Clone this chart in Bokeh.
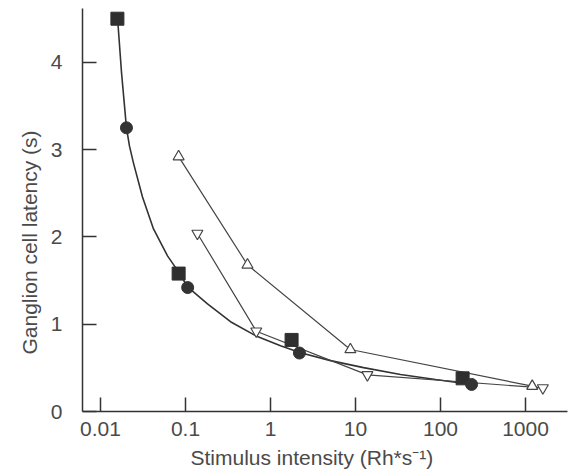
from bokeh.plotting import figure
from bokeh.models import FixedTicker, Range1d, Title
from bokeh.embed import file_html
from bokeh.resources import INLINE

# ---- data ----
square_x = [0.0158, 0.083, 1.77, 182]
square_y = [4.50, 1.58, 0.82, 0.38]

circle_x = [0.0202, 0.106, 2.19, 232]
circle_y = [3.25, 1.42, 0.67, 0.31]

up_tri_x = [0.083, 0.536, 8.7, 1200]
up_tri_y = [2.92, 1.68, 0.71, 0.29]

down_tri_x = [0.138, 0.68, 13.8, 1600]
down_tri_y = [2.04, 0.92, 0.42, 0.27]

# fitted curve, points
fit_x = [0.01585, 0.01766, 0.02022, 0.02194, 0.02444, 0.03119, 0.04202, 0.06141,
         0.08273, 0.1056, 0.1815, 0.3383, 0.6661, 1.311, 2.254, 5.081, 12.42,
         33.83, 87.35, 231.6]
fit_y = [4.514, 3.886, 3.246, 3.040, 2.846, 2.457, 2.091, 1.783,
         1.600, 1.429, 1.234, 1.029, 0.869, 0.754, 0.674, 0.583, 0.503,
         0.423, 0.366, 0.309]

x_ticks = [0.01, 0.1, 1, 10, 100, 1000]
x_tick_labels = ["0.01", "0.1", "1", "10", "100", "1000"]
y_ticks = [0, 1, 2, 3, 4]

x_label = "Stimulus intensity (Rh*s\u207b\u00b9)"
y_label = "Ganglion cell latency (s)"

FONT = "Liberation Sans"
TXT = "#4a4a4a"
INK = "#333333"

p = figure(width=577, height=473, x_axis_type="log",
           x_range=Range1d(0.00614, 3119), y_range=Range1d(0, 4.617),
           output_backend="svg", toolbar_location=None,
           min_border_left=82, min_border_right=10, min_border_top=8,
           min_border_bottom=61)
p.outline_line_color = None
p.xgrid.visible = False
p.ygrid.visible = False
p.background_fill_color = "white"
p.border_fill_color = "white"

# lines
p.line(fit_x, fit_y, line_color=INK, line_width=1.6)
p.line(up_tri_x, up_tri_y, line_color="#444444", line_width=1.2)
p.line(down_tri_x, down_tri_y, line_color="#444444", line_width=1.2)

# markers
p.scatter(square_x, square_y, marker="square", size=13, fill_color="#2f2f2f", line_color="#2f2f2f")
p.scatter(circle_x, circle_y, marker="circle", size=12, fill_color="#333333", line_color="#333333")
p.scatter(up_tri_x, up_tri_y, marker="triangle", size=11, fill_color="white", line_color="#444444", line_width=1.2)
p.scatter(down_tri_x, down_tri_y, marker="inverted_triangle", size=11, fill_color="white", line_color="#444444", line_width=1.2)

# axes
for ax in (p.xaxis[0], p.yaxis[0]):
    ax.axis_line_color = INK
    ax.axis_line_width = 1.5
    ax.major_tick_line_color = INK
    ax.major_tick_line_width = 1.5
    ax.major_tick_in = 14
    ax.major_tick_out = 0
    ax.minor_tick_line_color = None
    ax.major_label_text_font = FONT
    ax.major_label_text_font_size = "21px"
    ax.major_label_text_color = TXT

p.xaxis[0].ticker = FixedTicker(ticks=x_ticks)
p.xaxis[0].major_label_overrides = {t: l for t, l in zip(x_ticks, x_tick_labels)}
p.xaxis[0].major_label_standoff = 10
p.yaxis[0].ticker = FixedTicker(ticks=y_ticks)
p.yaxis[0].major_label_standoff = 20

p.add_layout(Title(text=x_label, align="left", offset=108, text_font=FONT,
                   text_font_size="21px", text_font_style="normal", text_color=TXT,
                   standoff=10), "below")
p.add_layout(Title(text=y_label, align="left", offset=57, text_font=FONT,
                   text_font_size="21px", text_font_style="normal", text_color=TXT,
                   standoff=14), "left")

open("out.html", "w").write(file_html(p, INLINE))
